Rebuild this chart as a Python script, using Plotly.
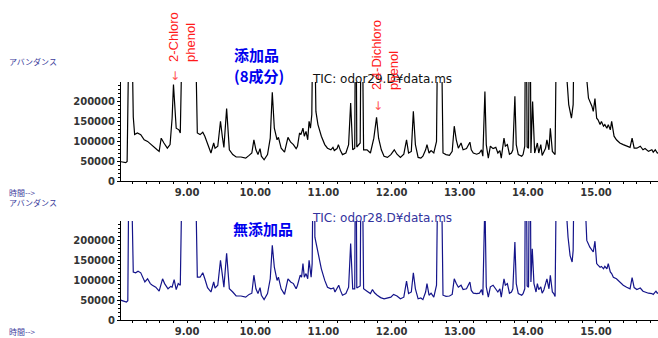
import plotly.graph_objects as go

# ---- data: retention time (min) and abundance (thousand counts) ----
time_top = [8.00, 8.05, 8.10, 8.12, 8.14, 8.16, 8.19, 8.21, 8.23, 8.27, 8.32, 8.37, 8.42, 8.47, 8.52, 8.56, 8.59, 8.62, 8.66, 8.71,
            8.75, 8.78, 8.80, 8.82, 8.84, 8.88, 8.90, 8.92, 8.96, 9.05, 9.13, 9.15, 9.19, 9.23, 9.26, 9.30, 9.35, 9.39, 9.41, 9.45,
            9.49, 9.52, 9.54, 9.58, 9.62, 9.67, 9.72, 9.79, 9.86, 9.91, 9.95, 9.98, 10.01, 10.04, 10.07, 10.09, 10.13, 10.18, 10.22, 10.25,
            10.28, 10.32, 10.34, 10.38, 10.43, 10.48, 10.52, 10.56, 10.60, 10.62, 10.65, 10.67, 10.70, 10.72, 10.745, 10.77, 10.79, 10.81, 10.83, 10.845,
            10.86, 10.875, 10.89, 10.92, 10.97, 11.02, 11.06, 11.11, 11.14, 11.16, 11.20, 11.22, 11.25, 11.28, 11.33, 11.37, 11.40, 11.43, 11.46, 11.475,
            11.49, 11.54, 11.56, 11.58, 11.59, 11.64, 11.69, 11.74, 11.78, 11.81, 11.85, 11.89, 11.94, 11.99, 12.04, 12.08, 12.13, 12.18, 12.22, 12.25,
            12.29, 12.32, 12.35, 12.39, 12.43, 12.46, 12.50, 12.52, 12.55, 12.58, 12.62, 12.66, 12.68, 12.705, 12.73, 12.755, 12.80, 12.85, 12.89, 12.92,
            12.95, 12.98, 13.02, 13.05, 13.10, 13.15, 13.17, 13.20, 13.25, 13.29, 13.32, 13.34, 13.37, 13.39, 13.42, 13.45, 13.49, 13.53, 13.56, 13.59,
            13.61, 13.65, 13.67, 13.70, 13.73, 13.76, 13.78, 13.81, 13.83, 13.86, 13.91, 13.93, 13.955, 13.97, 13.99, 14.01, 14.03, 14.045, 14.07, 14.10,
            14.14, 14.16, 14.19, 14.21, 14.26, 14.28, 14.31, 14.33, 14.36, 14.38, 14.40, 14.42, 14.45, 14.52, 14.555, 14.60, 14.64, 14.665, 14.68, 14.72,
            14.80, 14.84, 14.89, 14.94, 14.96, 14.985, 15.01, 15.03, 15.06, 15.08, 15.11, 15.13, 15.16, 15.18, 15.21, 15.23, 15.265, 15.30, 15.35, 15.40,
            15.45, 15.50, 15.53, 15.56, 15.60, 15.65, 15.69, 15.72, 15.77, 15.82, 15.84, 15.87, 15.90, 15.95]
abund_top = [49, 47.5, 46, 49, 300, 700, 300, 160, 116, 120, 116, 103, 99, 91, 82, 78, 74, 107, 95, 82,
             91, 157, 241, 191, 132, 128, 120, 300, 900, 900, 300, 120, 116, 122, 112, 91, 70, 95, 82, 87,
             149, 107, 84, 181, 78, 66, 60, 60, 57, 64, 70, 103, 78, 66, 81, 62, 53, 66, 107, 222,
             132, 103, 109, 82, 72, 109, 97, 91, 81, 87, 120, 116, 132, 112, 124, 103, 149, 132, 166, 400,
             900, 350, 174, 141, 112, 91, 82, 78, 84, 76, 81, 91, 76, 66, 70, 91, 195, 78, 82, 600,
             85, 95, 600, 100, 78, 78, 70, 107, 159, 107, 78, 62, 59, 66, 78, 67, 59, 67, 103, 70,
             74, 174, 91, 59, 57, 62, 78, 91, 70, 76, 70, 99, 400, 900, 400, 70, 66, 64, 74, 137,
             103, 82, 95, 78, 81, 97, 78, 70, 67, 70, 78, 62, 224, 91, 57, 87, 81, 84, 70, 76,
             57, 107, 87, 91, 67, 70, 78, 212, 91, 66, 62, 66, 87, 600, 85, 82, 600, 70, 199, 70,
             95, 70, 91, 64, 82, 103, 78, 132, 74, 70, 66, 400, 900, 900, 300, 191, 157, 191, 400, 800,
             500, 300, 207, 187, 174, 206, 157, 153, 141, 149, 137, 141, 132, 141, 128, 149, 112, 103, 95, 91,
             87, 84, 107, 82, 82, 87, 78, 81, 74, 78, 72, 78, 70, 72]

time_bot = [8.00, 8.05, 8.11, 8.13, 8.14, 8.16, 8.19, 8.21, 8.245, 8.28, 8.32, 8.36, 8.38, 8.42, 8.46, 8.49, 8.54, 8.59, 8.64, 8.67,
            8.72, 8.76, 8.78, 8.81, 8.84, 8.87, 8.90, 8.92, 8.96, 9.05, 9.13, 9.15, 9.19, 9.23, 9.26, 9.30, 9.35, 9.39, 9.41, 9.45,
            9.49, 9.52, 9.54, 9.58, 9.62, 9.67, 9.72, 9.79, 9.86, 9.91, 9.95, 9.98, 10.01, 10.04, 10.07, 10.09, 10.13, 10.18, 10.22, 10.25,
            10.28, 10.32, 10.34, 10.38, 10.43, 10.48, 10.52, 10.56, 10.60, 10.62, 10.66, 10.68, 10.70, 10.72, 10.745, 10.77, 10.79, 10.82, 10.835, 10.85,
            10.86, 10.875, 10.92, 10.97, 11.02, 11.06, 11.11, 11.15, 11.17, 11.20, 11.225, 11.25, 11.28, 11.33, 11.37, 11.40, 11.43, 11.46, 11.475, 11.49,
            11.54, 11.56, 11.58, 11.59, 11.64, 11.69, 11.72, 11.75, 11.79, 11.84, 11.89, 11.94, 11.99, 12.03, 12.08, 12.13, 12.18, 12.22, 12.25, 12.29,
            12.32, 12.35, 12.39, 12.43, 12.46, 12.50, 12.52, 12.55, 12.58, 12.62, 12.66, 12.68, 12.705, 12.73, 12.755, 12.80, 12.85, 12.89, 12.92, 12.95,
            12.98, 13.02, 13.05, 13.10, 13.15, 13.17, 13.20, 13.25, 13.29, 13.32, 13.34, 13.37, 13.39, 13.42, 13.45, 13.49, 13.53, 13.56, 13.59, 13.61,
            13.65, 13.67, 13.70, 13.73, 13.76, 13.78, 13.81, 13.83, 13.86, 13.91, 13.93, 13.955, 13.97, 13.99, 14.01, 14.03, 14.045, 14.065, 14.09, 14.12,
            14.14, 14.16, 14.19, 14.21, 14.235, 14.28, 14.31, 14.33, 14.36, 14.38, 14.40, 14.42, 14.45, 14.52, 14.555, 14.59, 14.62, 14.65, 14.665, 14.68,
            14.72, 14.80, 14.84, 14.865, 14.91, 14.96, 14.985, 15.01, 15.03, 15.06, 15.08, 15.11, 15.13, 15.16, 15.18, 15.21, 15.23, 15.255, 15.30, 15.35,
            15.40, 15.45, 15.50, 15.53, 15.56, 15.60, 15.65, 15.69, 15.72, 15.77, 15.82, 15.84, 15.88, 15.90, 15.95]
abund_bot = [51, 49, 45, 48, 300, 700, 300, 120, 118, 122, 118, 101, 95, 103, 91, 87, 82, 72, 103, 91,
             78, 84, 82, 101, 76, 91, 87, 300, 900, 900, 300, 107, 107, 118, 103, 81, 70, 95, 80, 87,
             149, 107, 82, 167, 78, 70, 60, 60, 57, 64, 67, 112, 78, 66, 81, 62, 51, 66, 103, 187,
             132, 99, 107, 78, 64, 103, 95, 91, 78, 87, 112, 107, 141, 107, 116, 103, 149, 107, 141, 400,
             900, 207, 166, 128, 99, 82, 78, 80, 70, 78, 87, 74, 62, 66, 82, 191, 78, 78, 600, 80,
             85, 600, 90, 78, 72, 66, 76, 68, 62, 56, 53, 55, 57, 64, 60, 53, 57, 97, 66, 70,
             118, 78, 53, 55, 51, 70, 91, 62, 67, 57, 87, 400, 900, 400, 62, 59, 60, 64, 103, 91,
             82, 87, 76, 78, 95, 74, 67, 66, 67, 76, 62, 300, 83, 57, 83, 87, 78, 70, 78, 57,
             103, 87, 91, 67, 70, 78, 195, 91, 66, 62, 66, 78, 600, 85, 82, 600, 95, 178, 91, 70,
             91, 76, 83, 67, 75, 103, 78, 112, 70, 66, 59, 400, 900, 900, 300, 207, 161, 145, 174, 400,
             800, 500, 300, 199, 182, 170, 197, 141, 137, 132, 134, 128, 134, 128, 141, 120, 116, 107, 103, 95,
             87, 82, 78, 106, 81, 76, 80, 72, 70, 67, 66, 64, 72, 67, 70]

y_ticks = [0, 50000, 100000, 150000, 200000]
x_ticks = [9, 10, 11, 12, 13, 14, 15]
x_tick_labels = ["9.00", "10.00", "11.00", "12.00", "13.00", "14.00", "15.00"]

W, H = 658, 338


def px(x):
    return x / W


def py(y):
    return 1 - y / H


fig = go.Figure()
fig.add_trace(go.Scatter(x=time_top, y=[v * 1000 for v in abund_top], mode="lines",
                         line=dict(color="#000000", width=1.2), xaxis="x", yaxis="y",
                         showlegend=False, hoverinfo="skip"))
fig.add_trace(go.Scatter(x=time_bot, y=[v * 1000 for v in abund_bot], mode="lines",
                         line=dict(color="#14148a", width=1.2), xaxis="x2", yaxis="y2",
                         showlegend=False, hoverinfo="skip"))

tickfont = dict(family="DejaVu Sans", size=10, color="#333333", weight="bold")

xcommon = dict(range=[8.03, 15.91], showline=True, linecolor="#000000", linewidth=1,
               ticks="outside", ticklen=2, tickcolor="#000000", tickvals=x_ticks, ticktext=x_tick_labels,
               tickfont=tickfont, showgrid=False, zeroline=False, automargin=False,
               minor=dict(ticks="outside", ticklen=2, dtick=0.2, tick0=8.0, tickcolor="#000000"))
ycommon = dict(range=[0, 247500], showline=True, linecolor="#000000", linewidth=1,
               ticks="outside", ticklen=3, tickcolor="#000000", tickvals=y_ticks,
               ticktext=[str(v) for v in y_ticks], tickfont=tickfont,
               showgrid=False, zeroline=False, automargin=False,
               minor=dict(ticks="outside", ticklen=2, dtick=10000, tick0=0, tickcolor="#000000"))

fig.update_layout(
    width=W, height=H, margin=dict(l=0, r=0, t=0, b=0, autoexpand=False),
    paper_bgcolor="white", plot_bgcolor="white",
    xaxis=dict(domain=[px(121), 1], anchor="y", **xcommon),
    yaxis=dict(domain=[py(181), py(82)], anchor="x", **ycommon),
    xaxis2=dict(domain=[px(121), 1], anchor="y2", **xcommon),
    yaxis2=dict(domain=[py(320), py(221)], anchor="x2", **ycommon),
)

small_blue = dict(family="Noto Sans CJK JP", size=8, color="#3c3c9c")
ann = []
for label, yy in [("アバンダンス", 61), ("時間-->", 192), ("アバンダンス", 202), ("時間-->", 331)]:
    ann.append(dict(text=label, x=px(7), y=py(yy), xanchor="left", yanchor="middle", font=small_blue))

ann.append(dict(text="TIC: odor29.D¥data.ms", x=px(310), y=py(79), xanchor="left", yanchor="middle",
                font=dict(family="DejaVu Sans", size=12, color="#111111")))
ann.append(dict(text="TIC: odor28.D¥data.ms", x=px(310), y=py(218), xanchor="left", yanchor="middle",
                font=dict(family="DejaVu Sans", size=12, color="#33339e")))

big_blue = dict(family="Noto Sans CJK JP", size=15, color="#0000ee", weight="bold")
ann.append(dict(text="添加品", x=px(232), y=py(54), xanchor="left", yanchor="middle", font=big_blue))
ann.append(dict(text="(8成分)", x=px(232), y=py(75), xanchor="left", yanchor="middle", font=big_blue))
ann.append(dict(text="無添加品", x=px(231), y=py(228), xanchor="left", yanchor="middle", font=big_blue))

red = dict(family="Liberation Sans", size=13, color="#ff1a1a")
ann.append(dict(text="2-Chloro<br>phenol", textangle=-90, align="left", x=px(182), y=py(37),
                xanchor="center", yanchor="middle", font=red))
ann.append(dict(text="2,4-Dichloro<br>phenol", textangle=-90, align="left", x=px(385), y=py(55),
                xanchor="center", yanchor="middle", font=red))
arrow_font = dict(family="DejaVu Sans", size=12, color="#ff5555")
ann.append(dict(text="↓", x=px(175), y=py(76), xanchor="center", yanchor="middle", font=arrow_font))
ann.append(dict(text="↓", x=px(378), y=py(106), xanchor="center", yanchor="middle", font=arrow_font))

for a in ann:
    a.update(xref="paper", yref="paper", showarrow=False)
fig.update_layout(annotations=ann)

fig.write_html("out.html", config={"displayModeBar": False},
               post_script="document.body.style.margin='0';document.body.style.padding='0';"
                           "document.body.style.overflow='hidden';")
